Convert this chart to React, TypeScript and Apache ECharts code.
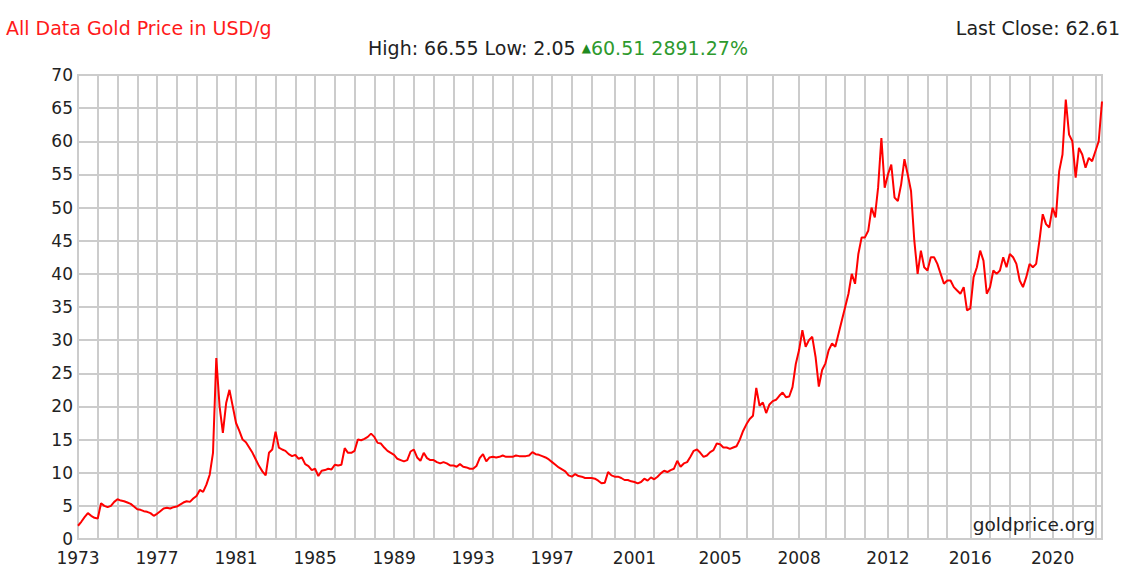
import React, { useEffect, useRef } from "react";
import * as echarts from "echarts";

// Years on the x axis (each year has a varying number of samples, as in the source chart)
const years = [
  1973, 1974, 1975, 1976, 1977, 1978, 1979, 1980, 1981, 1982, 1983, 1984,
  1985, 1986, 1987, 1988, 1989, 1990, 1991, 1992, 1993, 1994, 1995, 1996,
  1997, 1998, 1999, 2000, 2001, 2002, 2003, 2004, 2005, 2006, 2007, 2008,
  2009, 2010, 2011, 2012, 2013, 2014, 2015, 2016, 2017, 2018, 2019, 2020,
  2021, 2022,
];

const prices1973to1984: number[][] = [
  [2.0, 2.6, 3.3, 3.9, 3.5, 3.2],
  [3.1, 5.4, 5.0, 4.8, 5.0, 5.6],
  [6.0, 5.8, 5.7, 5.5, 5.3, 4.9],
  [4.5, 4.4, 4.2, 4.1, 3.9, 3.5],
  [3.8, 4.2, 4.6, 4.7, 4.6, 4.8],
  [4.9, 5.2, 5.5, 5.7, 5.6, 6.1],
  [6.5, 7.4, 7.1, 8.2, 9.7, 13.0],
  [27.3, 20.0, 16.0, 20.5, 22.5, 20.0],
  [17.5, 16.3, 15.0, 14.6, 13.8, 13.0],
  [12.0, 11.0, 10.2, 9.6, 13.0, 13.5],
  [16.2, 13.8, 13.5, 13.3, 12.8, 12.5],
  [12.7, 12.1, 12.3, 11.3, 11.0, 10.4],
];
const prices1985to1996: number[][] = [
  [10.6, 9.5, 10.3, 10.4, 10.6, 10.5],
  [11.2, 11.1, 11.2, 13.7, 13.0, 13.0],
  [13.3, 15.0, 14.9, 15.1, 15.4, 15.9],
  [15.4, 14.5, 14.4, 13.8, 13.3, 13.0],
  [12.7, 12.1, 11.9, 11.7, 11.9, 13.2],
  [13.5, 12.3, 11.8, 13.0, 12.2, 11.9],
  [11.9, 11.6, 11.4, 11.6, 11.4, 11.1],
  [11.1, 10.9, 11.3, 10.9, 10.8, 10.6],
  [10.6, 11.0, 12.2, 12.8, 11.7, 12.3],
  [12.4, 12.3, 12.4, 12.6, 12.4, 12.4],
  [12.4, 12.6, 12.5, 12.5, 12.5, 12.6],
  [13.1, 12.8, 12.7, 12.5, 12.3, 12.0],
];
const prices1997to2008: number[][] = [
  [11.6, 11.2, 10.8, 10.5, 10.2, 9.6],
  [9.4, 9.8, 9.5, 9.4, 9.2, 9.2],
  [9.2, 9.1, 8.8, 8.4, 8.5, 10.1, 9.6],
  [9.4, 9.4, 9.2, 8.9, 8.9, 8.7],
  [8.6, 8.4, 8.6, 9.1, 8.8, 9.3],
  [9.0, 9.4, 9.9, 10.3, 10.1, 10.4, 10.6],
  [11.8, 10.9, 11.4, 11.6, 12.4, 13.3],
  [13.5, 13.0, 12.4, 12.6, 13.1, 13.4, 14.4],
  [14.3, 13.8, 13.8, 13.6, 13.8, 14.0, 15.0, 16.3],
  [17.3, 18.1, 18.6, 22.8, 20.1, 20.6, 19.0, 20.3],
  [20.8, 21.0, 21.6, 22.1, 21.4, 21.5, 22.9, 26.4],
  [28.5, 31.5, 29.0, 30.0, 30.5, 27.5, 23.0, 25.5],
];
const prices2009to2022: number[][] = [
  [26.5, 28.5, 29.5, 29.0, 31.0, 33.0],
  [35.0, 37.0, 40.0, 38.5, 43.0, 45.5],
  [45.5, 46.5, 50.0, 48.5, 53.0, 60.5, 53.0],
  [55.0, 56.5, 51.5, 51.0, 53.5, 57.3],
  [55.0, 52.5, 45.0, 40.0, 43.5, 41.0],
  [40.5, 42.5, 42.5, 41.5, 40.0, 38.5],
  [39.0, 39.0, 38.0, 37.5, 37.0, 38.0, 34.5],
  [34.8, 39.5, 41.0, 43.5, 42.0, 37.0],
  [38.0, 40.5, 40.0, 40.5, 42.5, 41.0],
  [43.0, 42.5, 41.5, 39.0, 38.0, 39.5],
  [41.5, 41.0, 41.5, 45.0, 49.0, 47.5, 47.0],
  [50.0, 48.5, 55.5, 58.0, 66.3, 61.0],
  [60.0, 54.5, 59.0, 58.0, 56.0, 57.5, 57.0],
  [58.5, 60.0, 66.0],
];

const labelYears = [1973, 1977, 1981, 1985, 1989, 1993, 1997, 2001, 2005, 2008, 2012, 2016, 2020];

const titleText = "All Data Gold Price in USD/g";
const statsText = "High: 66.55 Low: 2.05 ";
const changeText = "60.51 2891.27%";
const lastCloseText = "Last Close: 62.61";
const watermarkText = "goldprice.org";

const FONT = "DejaVu Sans, Verdana, sans-serif";

export default function App() {
  const ref = useRef<HTMLDivElement>(null);

  useEffect(() => {
    if (!ref.current) return;
    const chart = echarts.init(ref.current, undefined, { renderer: "svg" });

    const perYear = [...prices1973to1984, ...prices1985to1996, ...prices1997to2008, ...prices2009to2022];
    const categories: string[] = [];
    const values: number[] = [];
    perYear.forEach((arr, yi) => {
      arr.forEach((v, k) => {
        categories.push(k === 0 ? String(years[yi]) : `${years[yi]}-${k}`);
        values.push(v);
      });
    });
    const labelSet = new Set(labelYears.map(String));

    chart.setOption({
      animation: false,
      backgroundColor: "#ffffff",
      title: [
        {
          text: titleText,
          left: 6,
          top: 18,
          padding: 0,
          textStyle: { color: "#ff1a1a", fontSize: 19, fontWeight: "normal", fontFamily: FONT },
        },
        {
          text: `{a|${statsText}}{t|▲}{b|${changeText}}`,
          left: 368,
          top: 38,
          padding: 0,
          textStyle: {
            fontFamily: FONT,
            fontWeight: "normal",
            rich: {
              a: { color: "#222222", fontSize: 19, fontFamily: FONT, fontWeight: "normal" },
              t: { color: "#1f8a1f", fontSize: 12, fontFamily: FONT, fontWeight: "normal" },
              b: { color: "#2e9a2e", fontSize: 19, fontFamily: FONT, fontWeight: "normal" },
            },
          },
        },
        {
          text: lastCloseText,
          right: 19,
          top: 18,
          padding: 0,
          textStyle: { color: "#222222", fontSize: 19, fontWeight: "normal", fontFamily: FONT },
        },
      ],
      graphic: [
        {
          type: "text",
          right: 44,
          top: 515,
          style: { text: watermarkText, fill: "#222222", fontSize: 18.5, fontFamily: FONT },
          z: 10,
        },
      ],
      grid: {
        left: 78,
        right: 37,
        top: 75,
        bottom: 48,
        show: true,
        borderColor: "#cccccc",
        borderWidth: 2,
        containLabel: false,
      },
      xAxis: {
        type: "category",
        data: categories,
        boundaryGap: false,
        axisLine: { show: true, lineStyle: { color: "#cccccc", width: 2 } },
        axisTick: { show: false },
        axisLabel: {
          interval: (_i: number, v: string) => labelSet.has(v),
          color: "#222222",
          fontSize: 17,
          lineHeight: 15,
          fontFamily: FONT,
          margin: 11,
        },
        splitLine: {
          show: true,
          interval: (_i: number, v: string) => !String(v).includes("-"),
          lineStyle: { color: "#cccccc", width: 2 },
        },
      },
      yAxis: {
        type: "value",
        min: 0,
        max: 70,
        interval: 5,
        axisLine: { show: false },
        axisTick: { show: false },
        axisLabel: { color: "#222222", fontSize: 17, lineHeight: 15, fontFamily: FONT, margin: 5 },
        splitLine: { show: true, lineStyle: { color: "#cccccc", width: 2 } },
      },
      series: [
        {
          type: "line",
          data: values,
          showSymbol: false,
          symbol: "none",
          lineStyle: { color: "#ff0000", width: 2 },
          z: 5,
        },
      ],
    });

    return () => chart.dispose();
  }, []);

  return (
    <div
      ref={ref}
      style={{ position: "fixed", left: 0, top: 0, width: 1139, height: 587, background: "#fff" }}
    />
  );
}
